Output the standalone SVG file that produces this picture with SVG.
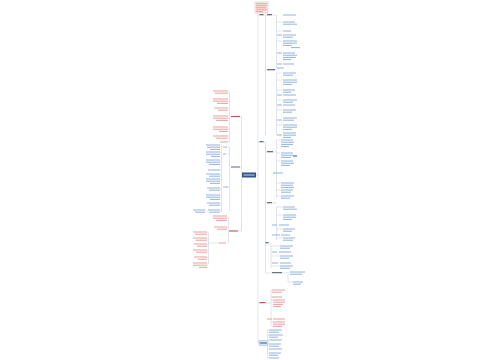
<svg xmlns="http://www.w3.org/2000/svg" width="500" height="360" viewBox="0 0 500 360">
<style>
.c{stroke:#bfcadb;stroke-width:.5;fill:none}
.b{stroke:#86acdc;stroke-width:.9;fill:none}
.r{stroke:#e59590;stroke-width:.9;fill:none}
.k{stroke:#6b7280;stroke-width:1.1;fill:none}
.kr{stroke:#c0504d;stroke-width:1.1;fill:none}
</style>
<rect width="500" height="360" fill="#ffffff"/>
<g id="connectors" class="c">
<path d="M242,175H241.5M241.5,117V231M241.5,117H240M229.5,92V142M228,92h1.5M228,101h1.5M228,109h1.5M228,118h1.5M228,129h1.5M228,137h1.5M228,142h1.5"/>
<path d="M241.5,167H240M229.5,147V211M229.5,147h-2M229.5,154h-2M229.5,187h-2M221.5,145V212M220,146h1.5M220,153h1.5M220,161h1.5M220,170h1.5M220,175h1.5M220,180h1.5M220,189h1.5M220,196h1.5M220,204h1.5M220,211h1.5M207.5,211h-2"/>
<path d="M241.5,231H238M228.5,217V243M227,217h1.5M227,228h1.5M228.5,243H227M219,243H208.5M208.5,233V264M207,233h1.5M207,239h1.5M207,245h1.5M207,251h1.5M207,258h1.5M207,264h1.5"/>
<path d="M256,175H258M258,13V343M258,15H265.5M265.5,15V135M265.5,15H276.5M276.5,15V68M276.5,22h6M276.5,31h6M276.5,41h6M276.5,68h0.5"/>
<path d="M265.5,70H276.5M276.5,73V135M276.5,73h6M276.5,80h6M276.5,90h6M276.5,100h6M276.5,110h6M276.5,125h6"/>
<path d="M258,142H265.5M265.5,142V273M265.5,152H276.5M276.5,140V198M276.5,140h4M276.5,153h4M276.5,161h4M276.5,173h-3M276.5,183h4M276.5,190h4M276.5,196h4"/>
<path d="M265.5,203H276.5M276.5,207V240M276.5,207h6M276.5,215h6M276.5,229h6M276.5,238h6"/>
<path d="M265.5,243H271M271,243V268M271,246h9M271,256h9M271,266h9M265.5,273H272M282,273H290M288,273V282H293"/>
<path d="M258,303H271M271,290V327M271,290h1M271,297h1M271,300h2M271,322h2"/>
<path d="M258,343H259M268,343H267.5M267.5,330V358M267.5,330h1.5M267.5,335h1.5M267.5,340h1.5M267.5,344h1.5M267.5,349h1.5M267.5,353h1.5M267.5,358h1.5"/>
</g>
<g id="center">
<rect x="242" y="172.5" width="14" height="5" fill="#34558b"/>
<path d="M243.5,175h11" stroke="#c9d6ea" stroke-width="1"/>
</g>
<g id="left-red-1">
<path class="kr" d="M231,116.5h9"/>
<path class="r" d="M213,91h15M215,93.2h13M213,99h15M213,101.2h15M217,103.4h11M214,108h14M218,110.2h10M213,116h15M213,118.2h15M216,120.4h12M213,127h15M213,129.2h15M219,131.4h9M213,136h15M216,138.2h12M220,142h8"/>
</g>
<g id="left-blue">
<path class="k" d="M231,167h9"/>
<path class="b" d="M223,147h4M223,154h3M223,187h5"/>
<path class="b" d="M206,145h14M207,147.2h13M210,149.4h10M206,152h14M206,154.2h14M211,156.4h9M206,160h14M206,162.2h14M209,164.4h11M208,170h12M206,174h14M209,176.2h11M206,179h14M206,181.2h14M210,183.4h10M207,188h13M209,190.2h11M206,195h14M206,197.2h14M210,199.4h10M207,203h13M209,205.2h11M208,210h12M209,212.2h11M193,210h12M195,212.2h10"/>
</g>
<g id="left-red-2">
<path class="kr" d="M229,231h9"/>
<path class="r" d="M219,243h7"/>
<path class="r" d="M213,216h14M213,218.2h14M216,220.4h11M214,227h13M217,229.2h10M193,232h14M195,234.2h12M193,238h14M196,240.2h11M194,244h13M197,246.2h10M193,250h14M196,252.2h11M194,257h13M198,259.2h9M193,263h14M193,265.2h14M199,267.4h8"/>
</g>
<g id="right-top-note">
<rect x="255" y="2" width="13" height="11" fill="#fbeceb" stroke="#e7aaa6" stroke-width=".4"/>
<path class="r" d="M256,3.8h11M256,5.8h11M256,7.8h10M256,9.8h11M256,11.6h7"/>
</g>
<g id="right-a">
<path class="k" d="M259.5,14.6h4M267,14.6h5M267,69.6h8"/>
<path class="b" d="M277,35h5M277,53h5M277,64h5M277,68h7M277,95h5M277,105h5M277,120h5M277,135h5"/>
<path class="b" d="M283,15h13M283,22h12M283,24.2h14M283,31h8M283,35h13M283,37.2h10M283,41h14M283,43.2h14M283,45.4h9M291,47.6h9M283,53h12M283,55.2h14M283,57.4h13M283,59.6h8M283,64h11M283,73h13M283,75.2h10M283,80h14M283,82.2h14M283,84.4h9M283,90h12M283,92.2h8M283,95h13M283,100h14M283,102.2h10M283,105h12M283,110h13M283,112.2h9M283,118h14M283,120.2h11M283,125h14M283,127.2h14M283,129.4h9M283,133h13M283,135.2h13M283,137.4h8"/>
</g>
<g id="right-b">
<path class="k" d="M259.5,141.6h4M267,151.6h6M267,202.6h5M265.5,242.6h3M272,272.6h10"/>
<path class="b" d="M281,140h12M281,142.2h13M281,144.4h12M281,146.6h8M281,153h12M281,155.2h12M281,157.4h10M281,161h12M281,163.2h13M281,165.4h9M273,173h10M281,183h13M281,185.2h12M281,187.4h13M281,190h12M281,192.2h10M281,196h13M281,198.2h9"/>
<path d="M293,156h4" stroke="#3f7cc8" stroke-width="1.2"/>
<path class="b" d="M283,207h12M283,209.2h14M283,215h13M283,217.2h13M283,219.4h9M272,225h5M279,225h10M283,229h12M283,231.2h9M272,235h8M281,235h9M283,238h12M283,240.2h10"/>
<path class="b" d="M272,252h5M272,263h6M280,246h13M280,248.2h10M279,252h12M280,256h13M280,258.2h9M280,263h11M280,266h13M280,268.2h10M290,272h15M290,274.2h12M293,282h10M293,284.2h8"/>
</g>
<g id="right-red">
<path class="kr" d="M259.5,302.6h6"/>
<path class="r" d="M272,290h13M272,292.2h10M272,297h10M273,300h12M273,302.2h12M273,304.4h10M273,306.6h8M267,319h5M273,319h12M273,322h12M273,324.2h12M273,326.4h9"/>
</g>
<g id="right-blue-box">
<rect x="259" y="340.8" width="9" height="4.4" fill="#d7e5f6" stroke="#6f9bd1" stroke-width=".4"/>
<path d="M260.2,343h6.6" stroke="#34558b" stroke-width="1"/>
<path class="b" d="M269,330h13M269,332.2h10M269,335h14M269,337.2h9M269,340h13M269,344h12M269,346.2h10M269,349h13M269,353h12M269,355.2h9M269,358h10"/>
</g>
</svg>
